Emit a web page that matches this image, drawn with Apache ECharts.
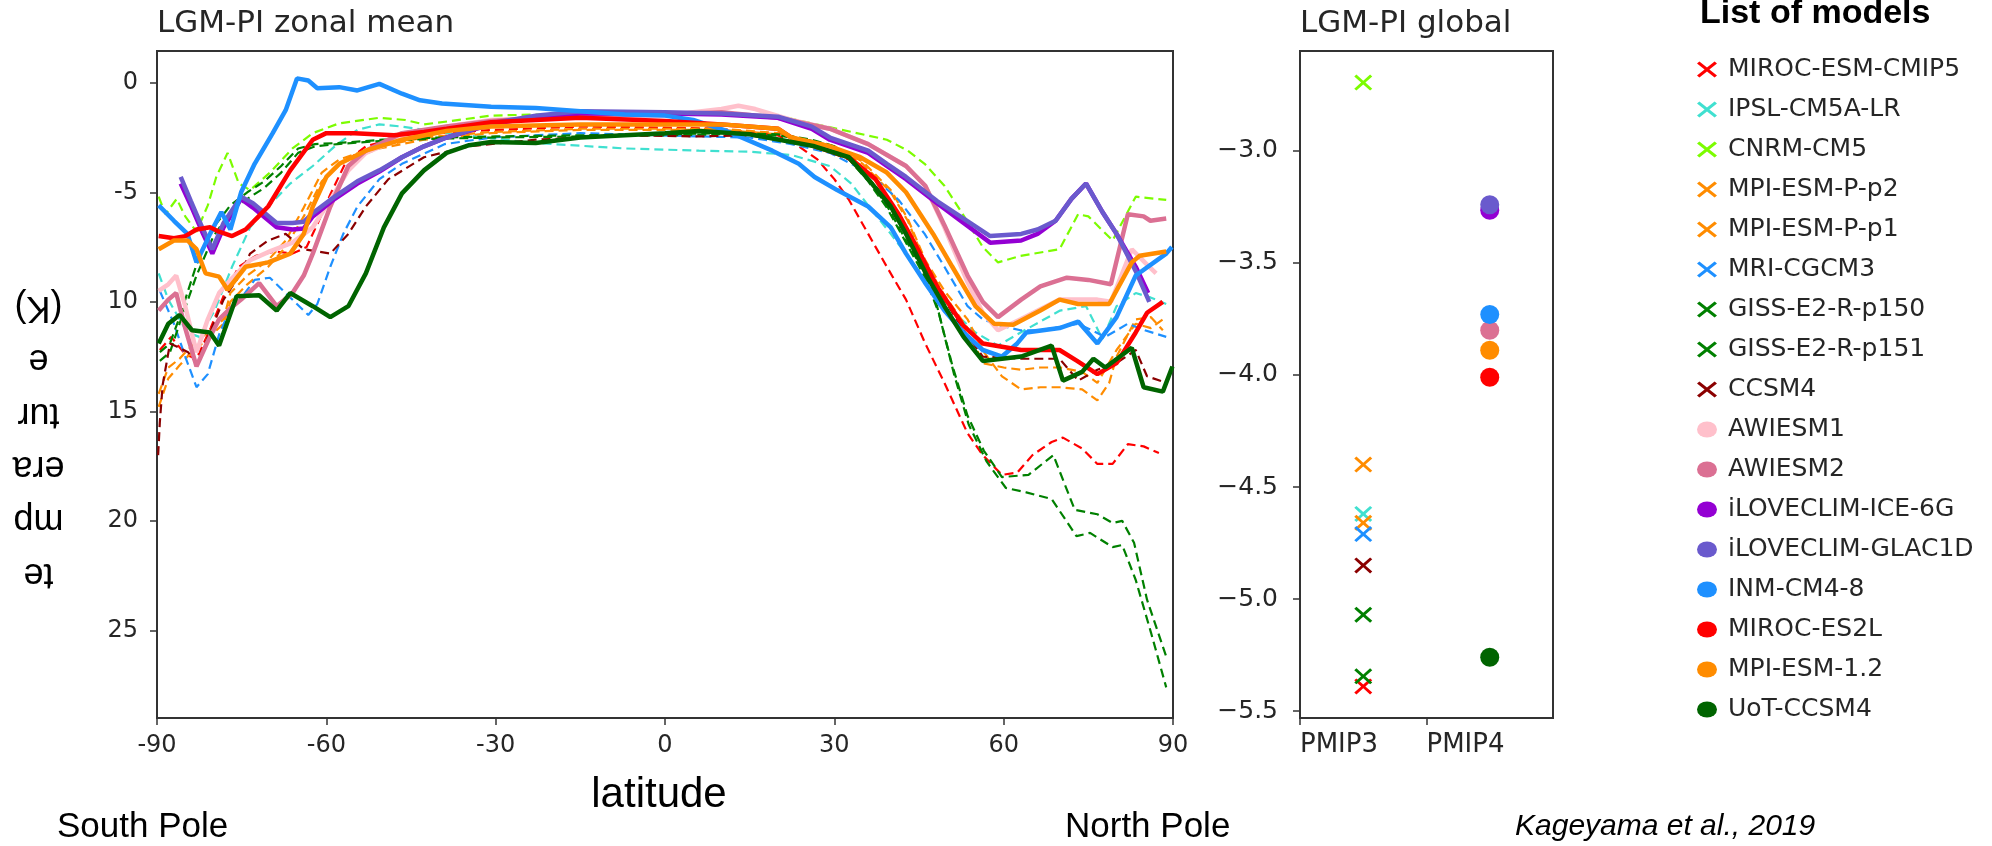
<!DOCTYPE html>
<html>
<head>
<meta charset="utf-8">
<script src="https://cdn.jsdelivr.net/npm/echarts@6/dist/echarts.min.js"></script>
<style>
  html, body { margin: 0; background: #fff; }
  #chart { width: 1992px; height: 846px; }
</style>
</head>
<body>
<div id="chart"></div>
<script>
// axis ticks and labels
const zonalTickValues = [0, -5, -10, -15, -20, -25]
const zonalTickLabels = ['0', '-5', '10', '15', '20', '25']
const globalTickValues = [-3, -3.5, -4, -4.5, -5, -5.5]
const globalTickLabels = ['−3.0', '−3.5', '−4.0', '−4.5', '−5.0', '−5.5']
const groupLabels = ['PMIP3', 'PMIP4']
const yLabelLines = ['(K)', 'e', 'tur', 'era', 'mp', 'te']

// PMIP3 models (dashed lines, crosses)
const pmip3Models = ['MIROC-ESM-CMIP5', 'IPSL-CM5A-LR', 'CNRM-CM5', 'MPI-ESM-P-p2', 'MPI-ESM-P-p1', 'MRI-CGCM3', 'GISS-E2-R-p150', 'GISS-E2-R-p151', 'CCSM4']
const pmip3Colors = ['#ff0000', '#40e0d0', '#7cfc00', '#ff8c00', '#ff8c00', '#1e90ff', '#008000', '#008000', '#8b0000']
const pmip3Global = [-5.39, -4.62, -2.695, -4.40, -4.66, -4.71, -5.07, -5.345, -4.85]

// PMIP4 models (solid lines, dots)
const pmip4Models = ['AWIESM1', 'AWIESM2', 'iLOVECLIM-ICE-6G', 'iLOVECLIM-GLAC1D', 'INM-CM4-8', 'MIROC-ES2L', 'MPI-ESM-1.2', 'UoT-CCSM4']
const pmip4Colors = ['#ffc0cb', '#db7093', '#9400d3', '#6a5acd', '#1e90ff', '#ff0000', '#ff8c00', '#006400']
const pmip4Global = [null, -3.80, -3.265, -3.24, -3.73, -4.01, -3.89, -5.26]

// zonal mean LGM-PI, [latitude, K]
const mirocEsmCmip5 = [[-89.5,-12.2],[-87.5,-11.6],[-85,-12.4],[-83,-12.6],[-80.5,-11.2],[-78,-9.6],[-75.5,-8.4],[-72.5,-7.9],[-69,-7.7],[-66,-7.8],[-63.5,-7.5],[-61.5,-6.4],[-59.3,-5.1],[-56.5,-3.6],[-53,-2.9],[-47,-2.5],[-40,-2.3],[-30,-2.15],[-15,-2.0],[0,-2.05],[10,-2.1],[20,-2.4],[23.7,-2.9],[27,-3.5],[30,-4.4],[32.6,-5.35],[36,-6.9],[39.3,-8.4],[42.7,-9.9],[46.1,-11.9],[49.5,-13.7],[53.6,-16.0],[56.3,-17.0],[59.7,-17.9],[62.4,-17.8],[65.1,-17.0],[68.5,-16.4],[70.5,-16.2],[73.9,-16.7],[76.6,-17.4],[79.3,-17.4],[82,-16.5],[84.8,-16.6],[87.5,-16.9]]
const ipslCm5aLr = [[-89.7,-8.7],[-88,-9.9],[-86,-10.8],[-84.6,-11.4],[-82.5,-11.6],[-79.8,-10.4],[-76.7,-8.4],[-73.5,-6.6],[-70.3,-5.65],[-66.4,-4.6],[-62.4,-3.8],[-58.5,-2.9],[-54.5,-2.15],[-50.6,-1.9],[-46.6,-2.0],[-39,-2.3],[-23,-2.75],[-7,-3.0],[6,-3.1],[15,-3.15],[22.4,-3.3],[29.2,-3.8],[33,-4.6],[36,-5.6],[40,-6.9],[45,-8.6],[50,-10.2],[55,-11.4],[59,-12.0],[63,-11.4],[66.5,-10.9],[70,-10.4],[74.6,-10.2],[77.5,-11.7],[80,-10.2],[83.4,-9.6],[86,-9.8],[88.8,-10.1]]
const cnrmCm5 = [[-89.7,-5.2],[-88.5,-6.0],[-86.5,-5.3],[-85,-6.1],[-83,-6.8],[-81,-5.6],[-79.5,-4.3],[-77.5,-3.2],[-75.5,-4.6],[-73.5,-4.9],[-70,-4.1],[-66,-3.0],[-62.4,-2.3],[-57.7,-1.85],[-50.6,-1.6],[-46,-1.7],[-42.7,-1.9],[-38,-1.75],[-30.8,-1.5],[-15,-1.4],[0,-1.45],[10,-1.4],[20,-1.5],[25,-1.8],[30.5,-2.1],[39.3,-2.6],[43,-3.1],[46,-3.7],[49.5,-4.7],[53,-6.1],[56.3,-7.5],[59,-8.2],[63,-7.9],[69.9,-7.6],[73.2,-6.0],[75,-6.1],[79.3,-7.2],[83.4,-5.2],[88.8,-5.35]]
const mpiEsmPp2 = [[-89.7,-14.2],[-88,-13.0],[-86,-12.6],[-84.6,-12.2],[-82,-11.6],[-78.2,-10.8],[-77,-9.6],[-74,-8.8],[-70.3,-8.1],[-67.2,-7.2],[-64,-5.7],[-60.8,-4.1],[-57.7,-3.5],[-50.6,-2.9],[-42.7,-2.5],[-30.8,-2.25],[-15,-2.1],[0,-2.1],[10,-2.1],[20,-2.3],[30,-2.9],[35,-3.6],[40,-4.9],[43,-6.2],[46.1,-8.1],[49.5,-9.5],[53.6,-10.8],[56.5,-12.3],[59.7,-13.4],[63.1,-14.0],[66.5,-13.9],[70,-13.9],[73.9,-14.0],[76.6,-14.5],[78.7,-13.7],[80,-12.5],[83.4,-10.8],[86.1,-10.7],[88.2,-11.3]]
const mpiEsmPp1 = [[-89.7,-14.8],[-88,-13.5],[-86,-12.9],[-84.6,-12.5],[-82,-11.9],[-78.2,-11.0],[-77,-10.0],[-74,-9.2],[-70.3,-8.4],[-67.2,-7.5],[-64,-6.1],[-60.8,-4.5],[-57.7,-3.7],[-50.6,-3.0],[-42.7,-2.6],[-30.8,-2.3],[-15,-2.15],[0,-2.15],[10,-2.15],[20,-2.35],[30,-2.95],[35,-3.7],[40,-5.0],[43,-6.3],[46.1,-8.2],[49.5,-9.7],[53.6,-11.2],[56.3,-12.8],[60,-13.0],[63.1,-13.1],[66.5,-13.0],[70,-13.0],[73.9,-13.2],[76.6,-13.7],[80,-12.2],[83.4,-11.0],[86.1,-11.2],[88.2,-10.8]]
const mriCgcm3 = [[-89.5,-9.5],[-87,-11.0],[-85,-12.5],[-83,-13.9],[-81,-13.3],[-79,-11.5],[-77,-10.3],[-75,-9.8],[-72.7,-9.0],[-70,-8.9],[-67.2,-9.6],[-63.2,-10.6],[-61.6,-10.1],[-59.3,-8.4],[-57,-6.9],[-54.5,-5.65],[-50.6,-4.4],[-46.6,-3.7],[-39,-2.8],[-30.8,-2.5],[-15,-2.3],[6,-2.45],[15,-2.5],[22.4,-2.8],[29.2,-3.2],[36,-4.1],[41.4,-5.35],[46,-6.9],[49.5,-8.4],[53.6,-10.2],[56.3,-10.8],[59.7,-11.1],[63,-11.3],[66.5,-11.3],[73.2,-11.0],[78,-11.6],[82,-11.0],[85,-11.3],[88.8,-11.6]]
const gissP150 = [[-89.5,-12.3],[-87.7,-11.9],[-86,-10.7],[-84.5,-9.5],[-83,-8.3],[-80,-6.6],[-77,-5.6],[-74,-5.0],[-71,-4.5],[-68,-3.8],[-65,-3.0],[-62,-2.8],[-58,-2.75],[-50,-2.6],[-40,-2.5],[-30,-2.45],[-15,-2.4],[0,-2.35],[10,-2.3],[20,-2.35],[26,-2.6],[30,-2.9],[32.6,-3.4],[36,-4.4],[39.3,-5.6],[42.7,-7.2],[46.1,-8.7],[48.2,-10.2],[50.9,-12.9],[53.6,-15.2],[56.5,-16.8],[59.7,-18.0],[64.4,-17.9],[68.8,-17.0],[72.6,-19.5],[76.6,-19.7],[79.3,-20.1],[81,-20.0],[83.1,-21.0],[85.4,-23.6],[88.8,-26.2]]
const gissP151 = [[-89.5,-12.7],[-87.7,-12.3],[-86,-11.0],[-84.5,-9.9],[-83,-8.8],[-80,-7.0],[-77,-5.9],[-74,-5.3],[-71,-4.8],[-68,-4.1],[-65,-3.2],[-62,-2.9],[-58,-2.8],[-50,-2.65],[-40,-2.55],[-30,-2.5],[-15,-2.45],[0,-2.4],[10,-2.35],[20,-2.4],[26,-2.65],[30,-2.95],[32.6,-3.5],[36,-4.5],[39.3,-5.7],[42.7,-7.3],[46.1,-8.9],[48.5,-10.5],[51.2,-13.3],[53.8,-15.6],[57,-17.3],[60.4,-18.5],[64,-18.7],[68.5,-19.0],[72.9,-20.7],[75.3,-20.55],[79.3,-21.2],[81,-21.1],[83.4,-22.7],[86.1,-25.1],[88.8,-27.6]]
const ccsm4 = [[-89.8,-17.0],[-89.5,-15.5],[-89,-13.8],[-87.7,-11.9],[-86,-12.1],[-84.5,-12.3],[-83,-12.8],[-80.6,-11.4],[-78.2,-9.9],[-75.9,-9.0],[-73.5,-7.8],[-70.3,-7.2],[-67.2,-6.9],[-64,-7.6],[-59.3,-7.8],[-56.1,-6.9],[-53,-5.65],[-49,-4.4],[-42.7,-3.4],[-34.7,-2.9],[-22.9,-2.6],[-7,-2.4],[6,-2.45],[15,-2.4],[26.5,-2.9],[32.6,-3.5],[37.3,-4.7],[41.4,-6.3],[46.1,-8.7],[49.5,-9.9],[52.9,-11.3],[56.3,-12.5],[63.1,-12.6],[69.9,-12.6],[73.2,-13.6],[76.6,-13.1],[80,-12.8],[83.4,-12.2],[85.4,-13.4],[88.8,-13.7]]

const awiesm1 = [[-89.7,-9.5],[-88,-9.2],[-86.6,-8.8],[-85,-10.2],[-83,-12.3],[-81,-10.8],[-79,-9.6],[-77,-9.0],[-73.5,-8.1],[-70,-7.7],[-66,-7.3],[-62.4,-6.6],[-59.3,-5.35],[-56.1,-4.0],[-53,-3.2],[-46.6,-2.5],[-38.7,-2.0],[-30.8,-1.7],[-15,-1.55],[0,-1.5],[5,-1.35],[10,-1.2],[13,-1.05],[16,-1.2],[22.4,-1.7],[29.2,-2.1],[36,-2.8],[42.7,-3.8],[46.1,-4.7],[49.5,-6.6],[53.6,-9.1],[56.3,-10.5],[59,-11.3],[63,-10.8],[69.9,-9.9],[76.6,-9.9],[79,-10.0],[82.7,-7.6],[85.4,-8.3],[87,-8.7]]
const awiesm2 = [[-89.7,-10.4],[-88,-9.9],[-86.6,-9.6],[-85,-11.2],[-83,-12.95],[-81,-11.8],[-79,-10.8],[-77,-10.3],[-75.1,-9.9],[-71.9,-9.15],[-68.8,-10.2],[-66,-9.6],[-64,-8.8],[-62.4,-7.8],[-59.3,-5.65],[-56.1,-3.8],[-53,-3.1],[-46.6,-2.3],[-38.7,-2.0],[-30.8,-1.75],[-15,-1.5],[0,-1.45],[10,-1.35],[20,-1.6],[29.2,-2.1],[36,-2.8],[42.7,-3.8],[46.1,-4.7],[49.5,-6.5],[53.6,-8.8],[56.3,-10.0],[59,-10.7],[63.1,-9.9],[66.5,-9.3],[71.2,-8.9],[75,-9.0],[79,-9.2],[82,-6.0],[84.8,-6.1],[86,-6.3],[88.8,-6.2]]
const iloveclimIce6g = [[-85.8,-4.6],[-84,-5.6],[-82,-6.8],[-80.2,-7.8],[-78.2,-6.6],[-75.1,-5.3],[-73,-5.7],[-68.8,-6.6],[-66,-6.7],[-64,-6.65],[-62.4,-6.1],[-58.5,-5.3],[-54.5,-4.6],[-50.6,-4.05],[-46.6,-3.4],[-42.7,-2.9],[-38.7,-2.5],[-30.8,-1.9],[-22.9,-1.55],[-15,-1.4],[0,-1.4],[10,-1.45],[20,-1.6],[26,-2.1],[29.2,-2.6],[36,-3.2],[39.3,-3.8],[42.7,-4.4],[48.2,-5.5],[52.9,-6.4],[57.6,-7.3],[63.1,-7.2],[66,-6.9],[69.2,-6.3],[72,-5.3],[74.6,-4.6],[77.5,-5.9],[80,-6.9],[83.4,-8.4],[85.6,-9.6]]
const iloveclimGlac1d = [[-85.8,-4.3],[-84,-5.4],[-82,-6.6],[-80.2,-7.6],[-78.2,-6.4],[-75.1,-5.2],[-73,-5.5],[-68.8,-6.4],[-66,-6.4],[-64,-6.35],[-62.4,-5.95],[-58.5,-5.2],[-54.5,-4.5],[-50.6,-4.0],[-46.6,-3.4],[-42.7,-2.9],[-38.7,-2.5],[-30.8,-1.85],[-22.9,-1.5],[-15,-1.3],[0,-1.35],[10,-1.4],[20,-1.55],[26,-2.0],[29.2,-2.5],[36,-3.1],[39.3,-3.7],[42.7,-4.3],[48.2,-5.4],[52.9,-6.2],[57.6,-7.0],[63.1,-6.9],[66,-6.7],[69.2,-6.3],[72,-5.3],[74.6,-4.6],[77.5,-5.9],[80,-6.9],[83.4,-8.6],[85.8,-10.0]]
const inmCm48 = [[-89.7,-5.6],[-87,-6.3],[-84.6,-6.9],[-83,-8.2],[-80.6,-6.9],[-78.6,-5.9],[-77,-6.7],[-75.1,-5.0],[-72.7,-3.7],[-69.5,-2.3],[-67.2,-1.25],[-65.2,0.2],[-63.2,0.1],[-61.6,-0.25],[-57.7,-0.2],[-54.5,-0.35],[-50.6,-0.05],[-46.6,-0.5],[-43.4,-0.8],[-39.5,-0.95],[-30.8,-1.1],[-22.9,-1.15],[-15,-1.3],[-7.1,-1.45],[0,-1.5],[5,-1.7],[10.9,-2.2],[19,-3.1],[23.7,-3.7],[26.5,-4.3],[30.5,-4.9],[36,-5.65],[40,-6.6],[42.7,-7.8],[46,-9.1],[49.5,-10.4],[52.9,-11.4],[56.3,-12.2],[59.7,-12.5],[62.4,-11.9],[64,-11.4],[69.9,-11.2],[73.2,-10.9],[76.6,-11.9],[80,-10.7],[83.4,-8.8],[88.8,-7.8],[89.8,-7.5]]
const mirocEs2l = [[-89.7,-7.0],[-87,-7.1],[-85,-7.0],[-83,-6.7],[-80.6,-6.6],[-79,-6.8],[-76.7,-7.0],[-74.3,-6.7],[-72,-6.1],[-70.3,-5.65],[-66.4,-4.0],[-62.4,-2.6],[-60,-2.3],[-55,-2.3],[-48,-2.4],[-42.7,-2.25],[-38.7,-2.1],[-30.8,-1.8],[-15,-1.6],[0,-1.75],[10,-1.9],[20,-2.1],[22.4,-2.5],[26.5,-2.9],[32.6,-3.4],[37.3,-4.4],[41.4,-6.0],[44.8,-7.6],[48.2,-9.3],[52.9,-11.1],[56.3,-11.9],[63.1,-12.2],[69.9,-12.2],[73,-12.7],[76.6,-13.3],[80,-12.8],[83.4,-11.4],[85.4,-10.5],[88.2,-10.0]]
const mpiEsm12 = [[-89.7,-7.6],[-87,-7.2],[-84.6,-7.2],[-83,-7.6],[-81.4,-8.7],[-79,-8.85],[-77.5,-9.45],[-74.3,-8.4],[-70.3,-8.2],[-66.4,-7.8],[-64,-6.9],[-62.4,-5.65],[-60,-4.3],[-57.7,-3.7],[-53,-3.1],[-46.6,-2.6],[-38.7,-2.2],[-30.8,-2.0],[-15,-1.9],[0,-1.9],[10,-1.9],[20,-2.1],[22.4,-2.5],[29.2,-2.9],[34.6,-3.4],[39.3,-4.1],[42.7,-5.0],[47.5,-6.9],[50.9,-8.4],[55,-10.2],[58.3,-11.0],[61.7,-11.05],[66.5,-10.4],[69.9,-9.9],[73.2,-10.1],[78.7,-10.1],[82.7,-8.2],[84.1,-7.9],[88.8,-7.7]]
const uotCcsm4 = [[-89.7,-11.9],[-88,-11.0],[-86,-10.6],[-83.8,-11.3],[-80.6,-11.4],[-79,-12.0],[-75.9,-9.75],[-71.9,-9.7],[-68.8,-10.4],[-66.4,-9.6],[-62.4,-10.2],[-59.3,-10.7],[-56.1,-10.2],[-53,-8.7],[-49.8,-6.6],[-46.6,-5.05],[-42.7,-4.0],[-38.7,-3.2],[-34.7,-2.85],[-30.8,-2.7],[-22.9,-2.75],[-15,-2.5],[-7.1,-2.4],[0,-2.3],[6,-2.2],[15,-2.35],[26.5,-2.9],[32.6,-3.4],[36,-4.4],[40,-5.65],[42.7,-6.9],[46.8,-9.0],[49.5,-10.2],[52.9,-11.6],[56.3,-12.7],[59.7,-12.6],[63.1,-12.5],[68.5,-12.0],[70.5,-13.6],[73.9,-13.2],[75.9,-12.6],[78,-13.0],[82.7,-12.1],[84.8,-13.9],[88.2,-14.1],[89.9,-12.95]]

const pmip3Zonal = [mirocEsmCmip5, ipslCm5aLr, cnrmCm5, mpiEsmPp2, mpiEsmPp1, mriCgcm3, gissP150, gissP151, ccsm4]
const pmip4Zonal = [awiesm1, awiesm2, iloveclimIce6g, iloveclimGlac1d, inmCm48, mirocEs2l, mpiEsm12, uotCcsm4]

const crossIcon = 'path://M0,1.2L1.2,0L5,3.8L8.8,0L10,1.2L6.2,5L10,8.8L8.8,10L5,6.2L1.2,10L0,8.8L3.8,5Z'
const dotIcon = 'path://M0,5A5,5,0,1,1,10,5A5,5,0,1,1,0,5Z'

const tickFont = 'DejaVu Sans'
const axisColor = '#333'
const textColor = '#262626'

const series = []
// scatter first so the legend picks its marker style
pmip3Models.forEach((name, i) => {
  series.push({
    name, type: 'scatter', xAxisIndex: 1, yAxisIndex: 1,
    symbol: crossIcon, symbolSize: [18, 16],
    itemStyle: { color: pmip3Colors[i], opacity: 1 },
    data: [[0.5, pmip3Global[i]]],
  })
})
pmip4Models.forEach((name, i) => {
  series.push({
    name, type: 'scatter', xAxisIndex: 1, yAxisIndex: 1,
    symbol: 'circle', symbolSize: 19,
    itemStyle: { color: pmip4Colors[i], opacity: 1 },
    data: pmip4Global[i] == null ? [] : [[1.5, pmip4Global[i]]],
  })
})
pmip3Models.forEach((name, i) => {
  series.push({
    name, type: 'line', xAxisIndex: 0, yAxisIndex: 0,
    symbol: 'none', data: pmip3Zonal[i],
    itemStyle: { color: pmip3Colors[i] },
    lineStyle: { color: pmip3Colors[i], width: 2.2, type: [9, 5] },
  })
})
pmip4Models.forEach((name, i) => {
  series.push({
    name, type: 'line', xAxisIndex: 0, yAxisIndex: 0,
    symbol: 'none', data: pmip4Zonal[i],
    itemStyle: { color: pmip4Colors[i] },
    lineStyle: { color: pmip4Colors[i], width: 4.5 },
  })
})

const legendData = pmip3Models.map((name) => ({ name, icon: crossIcon }))
  .concat(pmip4Models.map((name) => ({ name, icon: dotIcon })))

function axisBase() {
  return {
    type: 'value',
    axisLine: { show: true, onZero: false, lineStyle: { color: axisColor, width: 2 } },
    axisTick: { show: true, length: 7, lineStyle: { color: axisColor, width: 1.5 } },
    splitLine: { show: false },
  }
}

function label(text, x, y, size, extra) {
  return {
    type: 'text', x, y, silent: true,
    style: Object.assign({
      text, fill: '#000', fontFamily: 'Liberation Sans', fontSize: size,
      align: 'left', verticalAlign: 'middle',
    }, extra || {}),
  }
}

const graphics = [
  label('LGM-PI zonal mean', 157, 24, 31, { fontFamily: tickFont, fill: textColor }),
  label('LGM-PI global', 1300, 24, 31, { fontFamily: tickFont, fill: textColor }),
  label('List of models', 1700, 14, 34, { fontWeight: 'bold' }),
  label('latitude', 659, 795, 42, { align: 'center' }),
  label('South Pole', 57, 827, 35),
  label('North Pole', 1065, 827, 35),
  label('Kageyama et al., 2019', 1515, 827, 30, { fontStyle: 'italic' }),
]
yLabelLines.forEach((t, i) => {
  graphics.push({
    type: 'text', x: 38.5, y: 307 + 53.3 * i, rotation: Math.PI, silent: true,
    style: { text: t, fill: '#000', fontFamily: 'Liberation Sans', fontSize: 36, align: 'center', verticalAlign: 'middle' },
  })
})

const option = {
  animation: false,
  backgroundColor: '#fff',
  grid: [
    { left: 157, top: 51, width: 1016, height: 667, show: true, borderColor: axisColor, borderWidth: 2 },
    { left: 1300, top: 51, width: 253, height: 667, show: true, borderColor: axisColor, borderWidth: 2 },
  ],
  xAxis: [
    Object.assign(axisBase(), {
      gridIndex: 0, min: -90, max: 90, interval: 30,
      axisLabel: { color: textColor, fontFamily: tickFont, fontSize: 24, margin: 16 },
    }),
    Object.assign(axisBase(), {
      gridIndex: 1, min: 0, max: 2, interval: 1,
      axisTick: { show: true, length: 7, customValues: [0, 1], lineStyle: { color: axisColor, width: 1.5 } },
      axisLabel: {
        customValues: [0, 1], align: 'left', color: textColor, fontFamily: tickFont, fontSize: 26, margin: 14,
        formatter: (v) => groupLabels[v],
      },
    }),
  ],
  yAxis: [
    Object.assign(axisBase(), {
      gridIndex: 0, min: -29, max: 1.45,
      axisTick: { show: true, length: 7, customValues: zonalTickValues, lineStyle: { color: axisColor, width: 1.5 } },
      axisLabel: {
        customValues: zonalTickValues, color: textColor, fontFamily: tickFont, fontSize: 24, margin: 19,
        formatter: (v) => zonalTickLabels[zonalTickValues.indexOf(v)],
      },
    }),
    Object.assign(axisBase(), {
      gridIndex: 1, min: -5.531, max: -2.554,
      axisTick: { show: true, length: 7, customValues: globalTickValues, lineStyle: { color: axisColor, width: 1.5 } },
      axisLabel: {
        customValues: globalTickValues, color: textColor, fontFamily: tickFont, fontSize: 25, margin: 22,
        formatter: (v) => globalTickLabels[globalTickValues.indexOf(v)],
      },
    }),
  ],
  legend: {
    orient: 'vertical', left: 1692, top: 52,
    itemWidth: 20, itemHeight: 16, itemGap: 15,
    symbolKeepAspect: false, selectedMode: false,
    itemStyle: { opacity: 1 },
    textStyle: { fontFamily: tickFont, fontSize: 25, color: textColor, padding: [0, 0, 0, 6] },
    data: legendData,
  },
  graphic: graphics,
  series,
}

const chart = echarts.init(document.getElementById('chart'))
chart.setOption(option)
window.addEventListener('resize', () => chart.resize())
</script>
</body>
</html>
